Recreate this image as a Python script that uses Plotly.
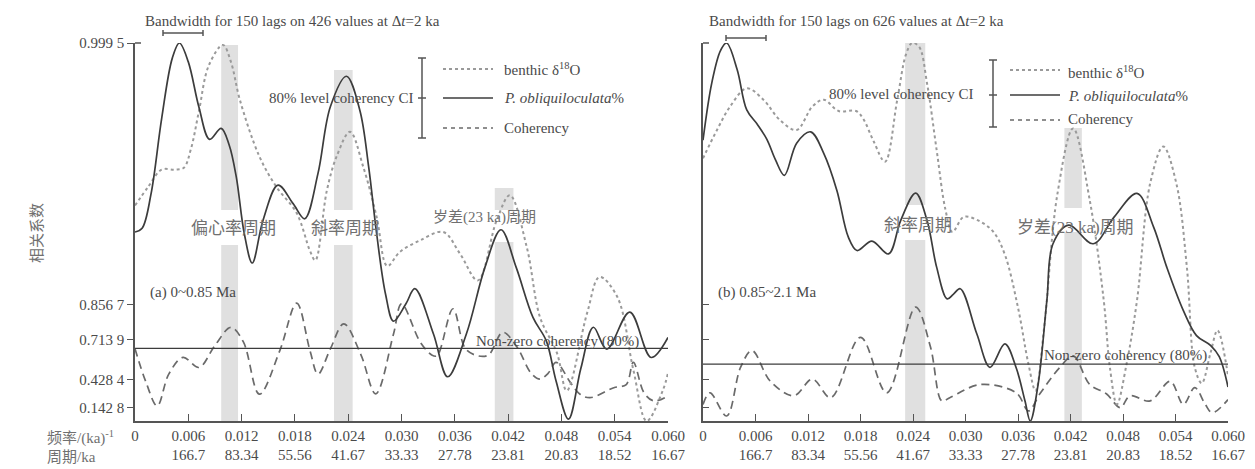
import numpy as np
import plotly.graph_objects as go

# ---------------- data ----------------
# panel (a) 0~0.85 Ma
freq_a_obl = [0, .0008, .0018, .0030, .0042, .0050, .0060, .0072, .0084, .0097, .0106, .0114, .0123, .0132,
              .0144, .0161, .0178, .0191, .0206, .0220, .0238, .0253, .0263, .0272, .0282, .0291, .0305,
              .0315, .0336, .0352, .0373, .0394, .0412, .0429, .0448, .0463, .0474, .0488, .0502, .0516,
              .0531, .0557, .0581, .0600]
obl_a = [.50, .51, .60, .80, .96, 1.0, .95, .83, .745, .774, .73, .646, .496, .418,
         .53, .624, .575, .535, .655, .832, .912, .823, .673, .496, .336, .264, .31,
         .35, .23, .117, .23, .407, .506, .407, .274, .212, .106, .005, .14, .248,
         .19, .288, .168, .221]

freq_a_d18o = [0, .0015, .0030, .0045, .0055, .0063, .0072, .0083, .0099, .0108, .0118, .0140, .0159, .0182,
               .0197, .0203, .0216, .0227, .0242, .0257, .0272, .0284, .0298, .0321, .0347, .0366, .0386,
               .0407, .0422, .0441, .0456, .0475, .0486, .0509, .0523, .0543, .0561, .0576, .0594, .0600]
d18o_a = [.57, .62, .665, .665, .67, .72, .82, .94, .995, .95, .85, .70, .62, .55,
          .45, .425, .61, .70, .765, .672, .54, .41, .447, .478, .50, .442, .372,
          .53, .597, .46, .274, .18, .08, .286, .381, .328, .135, 0.0, .08, .127]

freq_a_coh = [0, .0012, .0025, .0038, .0054, .0072, .0090, .0108, .0122, .0140, .0163, .0182, .0197, .0206,
              .0220, .0235, .0254, .0271, .0291, .0300, .0321, .0334, .0340, .0358, .0372, .0386, .0398,
              .0414, .0430, .0446, .0456, .0465, .0474, .0490, .0501, .0512, .0539, .0553, .0561, .0573,
              .0584, .0600]
coh_a = [.66, .41, .164, .473, .603, .528, .68, .773, .70, .286, .648, .86, .648, .473,
         .66, .788, .626, .29, .742, .858, .70, .62, .614, .843, .66, .614, .62,
         .75, .67, .48, .43, .48, .567, .40, .286, .25, .35, .38, .567, .30,
         .217, .268]
nonzero_a = 0.662

# panel (b) 0.85~2.1 Ma
freq_b_obl = [0, .0010, .0020, .0027, .0039, .0050, .0062, .0073, .0083, .0093, .0107, .0123, .0138, .0153,
              .0166, .0176, .0193, .0212, .0226, .0243, .0256, .0267, .0279, .0286, .0294, .0313, .0328,
              .0345, .0358, .0368, .0374, .0383, .0393, .0400, .0418, .0446, .0470, .0496, .0515, .0530,
              .0549, .0564, .0580, .0590, .0600]
obl_b = [.743, .894, .98, 1.0, .93, .823, .785, .745, .69, .65, .735, .765, .708, .61,
         .487, .451, .476, .442, .531, .603, .531, .407, .323, .335, .35, .23, .142,
         .204, .14, .053, 0.0, .097, .319, .469, .518, .469, .54, .602, .513, .407,
         .292, .226, .20, .17, .09]

freq_b_d18o = [0, .0016, .0031, .0050, .0069, .0088, .0107, .0125, .0138, .0155, .0175, .0183, .0195, .0208,
               .0222, .0232, .0239, .0247, .0256, .0267, .0277, .0285, .0298, .0315, .0332, .0345, .0360,
               .0372, .0380, .0390, .0405, .0423, .0442, .0458, .0465, .0473, .0484, .0496, .0511, .0526,
               .0541, .0553, .0562, .0570, .0580, .0588, .0600]
d18o_b = [.695, .77, .832, .88, .85, .796, .77, .832, .85, .82, .82, .80, .74, .686,
          .85, .97, 1.0, .99, .894, .717, .56, .50, .54, .53, .50, .44, .30,
          .15, .08, .25, .60, .774, .584, .319, .142, .044, .15, .319, .628, .726,
          .628, .407, .142, .10, .18, .24, .12]

freq_b_coh = [0, .0008, .0027, .0043, .0056, .0077, .0104, .0125, .0146, .0180, .0210, .0243, .0260, .0273,
              .0282, .0317, .0358, .0372, .0385, .0408, .0423, .0442, .0461, .0477, .0488, .0511, .0534,
              .0549, .0562, .0574, .0582, .0600]
coh_b = [.18, .30, .055, .53, .648, .41, .27, .43, .25, .725, .30, .848, .67, .217,
         .25, .38, .30, .11, .29, .53, .614, .38, .29, .146, .27, .217, .41,
         .18, .35, .18, .09, .23]
nonzero_b = 0.554

# orbital bands (frequency ranges)
bands_a = [(.0097, .0116), (.0224, .0245), (.0405, .0426)]
bands_b = [(.0231, .0254), (.0413, .0433)]

x_ticks = [0, .006, .012, .018, .024, .030, .036, .042, .048, .054, .060]
x_freq_labels = ["0", "0.006", "0.012", "0.018", "0.024", "0.030", "0.036", "0.042", "0.048", "0.054", "0.060"]
x_period_labels = ["", "166.7", "83.34", "55.56", "41.67", "33.33", "27.78", "23.81", "20.83", "18.52", "16.67"]
y_tick_coh = [0.1428, 0.4284, 0.7139, 0.8567, 0.9995]
y_tick_labels = ["0.142 8", "0.428 4", "0.713 9", "0.856 7", "0.999 5"]

# ---------------- figure ----------------
W, H = 1255, 469
def X(p): return p / W
def Y(p): return 1 - p / H

SERIF = "Liberation Serif, Noto Sans CJK SC, serif"
TXT = "#4a4a4a"
CJK = "#707070"
C_SOLID = "#3c3c3c"
C_DOT = "#9a9a9a"
C_DASH = "#6a6a6a"
AX = "#555555"

ydom = [Y(421), Y(43)]
zmax = float(np.arctanh(0.9995))

fig = go.Figure()

def add_panel(xa, ya, ys, fo, so, fd, sd, fc, sc):
    fig.add_trace(go.Scatter(x=fd, y=sd, xaxis=xa, yaxis=ys, mode="lines", line_shape="spline",
                             line=dict(color=C_DOT, width=2, dash="dot"), showlegend=False))
    fig.add_trace(go.Scatter(x=fo, y=so, xaxis=xa, yaxis=ys, mode="lines", line_shape="spline",
                             line=dict(color=C_SOLID, width=1.7), showlegend=False))
    fig.add_trace(go.Scatter(x=fc, y=np.arctanh(np.array(sc)), xaxis=xa, yaxis=ya, mode="lines",
                             line_shape="spline", line=dict(color=C_DASH, width=1.7, dash="8px,5px"),
                             showlegend=False))

add_panel("x", "y", "y3", freq_a_obl, obl_a, freq_a_d18o, d18o_a, freq_a_coh, coh_a)
add_panel("x2", "y2", "y4", freq_b_obl, obl_b, freq_b_d18o, d18o_b, freq_b_coh, coh_b)

ticktext = [f + ("<br>" + p if p else "") for f, p in zip(x_freq_labels, x_period_labels)]
xcommon = dict(range=[0, 0.060], tickvals=x_ticks, ticktext=ticktext, ticks="inside", ticklen=7,
               tickcolor=AX, showline=True, linecolor=AX, linewidth=1.5, showgrid=False, zeroline=False,
               tickfont=dict(family=SERIF, size=15, color=TXT), automargin=False)
ycommon = dict(range=[0, zmax], tickvals=list(np.arctanh(y_tick_coh)), showline=True, linecolor=AX,
               linewidth=1.5, showgrid=False, zeroline=False, tickcolor=AX, ticklen=6, domain=ydom,
               tickfont=dict(family=SERIF, size=15, color=TXT), automargin=False)

fig.update_layout(
    template="none",
    width=W, height=H, margin=dict(l=0, r=0, t=0, b=0, pad=0, autoexpand=False),
    paper_bgcolor="white", plot_bgcolor="white", showlegend=False,
    xaxis=dict(xcommon, domain=[X(135), X(668)], anchor="y"),
    xaxis2=dict(xcommon, domain=[X(703), X(1228)], anchor="y2"),
    yaxis=dict(ycommon, anchor="x", ticks="outside", ticktext=y_tick_labels),
    yaxis2=dict(ycommon, anchor="x2", ticks="inside", showticklabels=False),
    yaxis3=dict(range=[0, 1], overlaying="y", anchor="x", visible=False, domain=ydom),
    yaxis4=dict(range=[0, 1], overlaying="y2", anchor="x2", visible=False, domain=ydom),
)

shapes = []
# gray bands, split around the period labels
def band(xref, f0, f1, segs):
    for y0, y1 in segs:
        shapes.append(dict(type="rect", xref=xref, yref="paper", x0=f0, x1=f1, y0=Y(y1), y1=Y(y0),
                           fillcolor="#d6d6d6", opacity=0.75, line=dict(width=0), layer="below"))
band("x", *bands_a[0], [(45, 210), (245, 421)])
band("x", *bands_a[1], [(70, 210), (245, 421)])
band("x", *bands_a[2], [(188, 210), (242, 421)])
band("x2", *bands_b[0], [(43, 205), (240, 421)])
band("x2", *bands_b[1], [(128, 208), (232, 421)])

# non-zero coherency lines
shapes.append(dict(type="line", xref="x", yref="y", x0=0, x1=0.060, y0=float(np.arctanh(nonzero_a)),
                   y1=float(np.arctanh(nonzero_a)), line=dict(color=C_SOLID, width=1.3)))
shapes.append(dict(type="line", xref="x2", yref="y2", x0=0, x1=0.060, y0=float(np.arctanh(nonzero_b)),
                   y1=float(np.arctanh(nonzero_b)), line=dict(color=C_SOLID, width=1.3)))

def seg(x0, y0, x1, y1, color=AX, width=1.5, dash=None):
    ln = dict(color=color, width=width)
    if dash:
        ln["dash"] = dash
    shapes.append(dict(type="line", xref="paper", yref="paper", x0=X(x0), y0=Y(y0), x1=X(x1), y1=Y(y1),
                       line=ln))

# small inward cap at the top of each y axis
seg(135, 43, 141, 43)
seg(703, 43, 709, 43)

# bandwidth bars
for (a, b, yy) in [(163, 203, 33), (726, 766, 38)]:
    seg(a, yy, b, yy)
    seg(a, yy - 3, a, yy + 3)
    seg(b, yy - 3, b, yy + 3)

# CI brackets + legend samples
def legend(bx, ytop, ybot, ymid, lx0, lx1, ly):
    seg(bx, ytop, bx, ybot)
    seg(bx - 4, ytop, bx + 4, ytop)
    seg(bx - 4, ybot, bx + 4, ybot)
    seg(bx - 4, ymid, bx + 4, ymid)
    seg(lx0, ly[0], lx1, ly[0], C_DOT, 2, "dot")
    seg(lx0, ly[1], lx1, ly[1], C_SOLID, 1.7)
    seg(lx0, ly[2], lx1, ly[2], C_DASH, 1.7, "4px,4px")

legend(422, 58, 138, 98, 443, 493, (69, 98, 128))
legend(993, 60, 127, 95, 1010, 1060, (70, 95, 120))
fig.update_layout(shapes=shapes)

ann = []
def text(x, y, s, size=15, xanchor="left", angle=0, color=TXT):
    ann.append(dict(x=X(x), y=Y(y), xref="paper", yref="paper", text=s, showarrow=False,
                    xanchor=xanchor, yanchor="middle", textangle=angle,
                    font=dict(family=SERIF, size=size, color=color)))

text(143, 21, "Bandwidth for 150 lags on 426 values at Δ<i>t</i>=2 ka")
text(707, 21, "Bandwidth for 150 lags on 626 values at Δ<i>t</i>=2 ka")
text(416, 98, "80% level coherency CI", xanchor="right")
text(976, 94, "80% level coherency CI", xanchor="right")
text(502, 69, "benthic δ<sup>18</sup>O")
text(502, 98, "<i>P. obliquiloculata</i>%")
text(502, 128, "Coherency")
text(1066, 72, "benthic δ<sup>18</sup>O")
text(1066, 96, "<i>P. obliquiloculata</i>%")
text(1066, 119, "Coherency")
text(233, 228, "偏心率周期", 17, "center", color=CJK)
text(345, 228, "斜率周期", 17, "center", color=CJK)
text(484, 217, "岁差(23 ka)周期", 15, "center", color=CJK)
text(148, 292, "(a) 0~0.85 Ma", 15)
text(918, 226, "斜率周期", 17, "center", color=CJK)
text(1075, 227, "岁差(23 ka)周期", 17, "center", color=CJK)
text(716, 292, "(b) 0.85~2.1 Ma", 15)
text(557, 341, "Non-zero coherency (80%)", 15, "center")
text(1125, 355, "Non-zero coherency (80%)", 15, "center")
text(37, 233, "相关系数", 15, "center", -90, color=CJK)
text(45, 437, "频率/(ka)<sup>-1</sup>", 15, color=CJK)
text(45, 457, "周期/ka", 15, color=CJK)
fig.update_layout(annotations=ann)

fig.write_html("out.html", config={"displayModeBar": False},
               post_script="document.body.style.margin='0';document.body.style.overflow='hidden';")
